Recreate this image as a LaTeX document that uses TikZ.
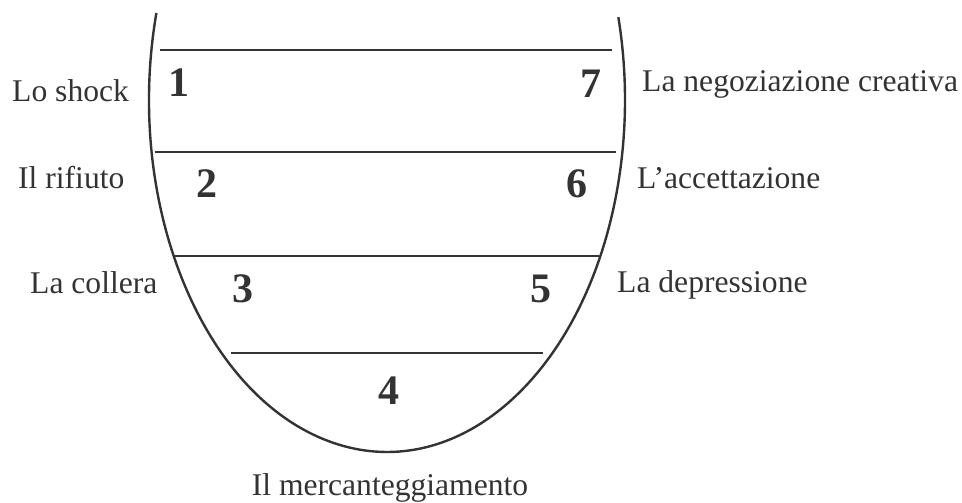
\documentclass[tikz,border=0pt]{standalone}
\usepackage{fontspec}
\setmainfont{Liberation Serif}
\definecolor{ink}{RGB}{51,51,51}
\usepackage{tikz}

\tikzset{
  stagenum/.style={font=\fontsize{42}{42}\selectfont\bfseries, text=ink, inner sep=0pt, anchor=base},
  stagename/.style={font=\fontsize{31.6}{36}\selectfont, text=ink, inner sep=0pt, anchor=base west}
}

\begin{document}
\begin{tikzpicture}[x=1pt, y=-1pt]
    \useasboundingbox (0,0) rectangle (962,503);

    %% The bowl (half ellipse, open at the top)
    \draw[ink, line width=2.4pt] (156.4,13)
        arc[start angle=194.3, end angle=-13.6, x radius=238, y radius=352];

    %% Horizontal steps
    \draw[ink, line width=2.6pt] (160,50)  -- (612,50);
    \draw[ink, line width=2.6pt] (155,152) -- (616,152);
    \draw[ink, line width=2.6pt] (175,256) -- (599,256);
    \draw[ink, line width=2.6pt] (231,353) -- (543,353);

    %% Stage numbers
    \node[stagenum] (n1) at (179,97)  {1};
    \node[stagenum] (n2) at (207,197) {2};
    \node[stagenum] (n3) at (243,302) {3};
    \node[stagenum] (n4) at (389,404) {4};
    \node[stagenum] (n5) at (541,302) {5};
    \node[stagenum] (n6) at (577,197) {6};
    \node[stagenum] (n7) at (591,98)  {7};

    %% Stage names, left side
    \node[stagename] (shock)   at (12,102) {Lo shock};
    \node[stagename] (rifiuto) at (18,188) {Il rifiuto};
    \node[stagename] (collera) at (30,293) {La collera};

    %% Stage names, right side
    \node[stagename] (negoz)  at (642,92)  {La negoziazione creativa};
    \node[stagename] (accett) at (637,188) {L’accettazione};
    \node[stagename] (depr)   at (617,292) {La depressione};

    %% Bottom
    \node[stagename, anchor=base] (merc) at (390,495) {Il mercanteggiamento};
\end{tikzpicture}
\end{document}
